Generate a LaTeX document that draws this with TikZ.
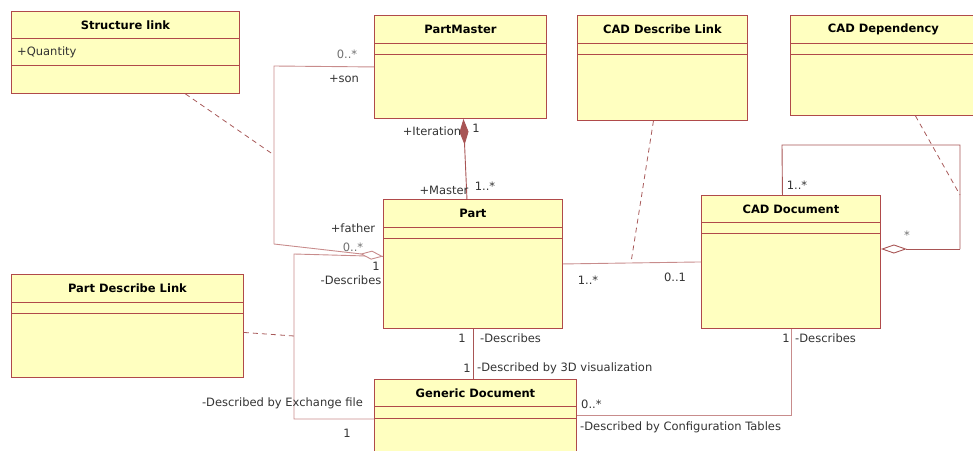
\documentclass[tikz,border=0pt]{standalone}
\usepackage{fontspec}
\setmainfont{DejaVu Sans}
\usetikzlibrary{arrows.meta}
\definecolor{boxfill}{HTML}{FFFFC0}
\definecolor{boxline}{HTML}{B04A4A}
\definecolor{connline}{HTML}{C88C8C}
\definecolor{darkline}{HTML}{A85555}
\definecolor{dashline}{HTML}{A85A5A}
\definecolor{labeltext}{HTML}{333333}
\definecolor{greytext}{HTML}{707070}
\tikzset{
  classbox/.style={draw=boxline, fill=boxfill, line width=0.9pt, anchor=north west, inner sep=0pt},
  divider/.style={draw=boxline, line width=0.9pt},
  classtitle/.style={font=\fontsize{11.5}{13}\selectfont\bfseries, text=black, inner sep=0pt},
  attrtext/.style={font=\fontsize{11.5}{13}\selectfont, text=labeltext, inner sep=0pt},
  lbl/.style={font=\fontsize{11.5}{13}\selectfont, text=labeltext, inner sep=0pt},
  glbl/.style={font=\fontsize{11.5}{13}\selectfont, text=greytext, inner sep=0pt},
  conn/.style={draw=connline, line width=0.9pt},
  darkconn/.style={draw=darkline, line width=0.9pt},
  dashconn/.style={draw=dashline, line width=0.8pt, dash pattern=on 5pt off 4pt},
}
\newcommand{\umlclass}[8]{%
  \node[classbox, minimum width=#4pt, minimum height=#5pt] (#1) at (#2,#3) {};
  \draw[divider] ([yshift=-#7pt]#1.north west) -- ([yshift=-#7pt]#1.north east);
  \draw[divider] ([yshift=-#8pt]#1.north west) -- ([yshift=-#8pt]#1.north east);
  \node[classtitle] (#1-t) at ([yshift=-14pt]#1.north) {#6};
}
\begin{document}
\begin{tikzpicture}[x=1pt,y=-1pt]
\useasboundingbox (0,0) rectangle (973,450);
% classes
\umlclass{sl}{11}{11}{228}{82}{Structure link}{27}{54}
\node[attrtext, anchor=west] (sl-a) at (17,52) {+Quantity};
\umlclass{pm}{374}{15}{172}{103}{PartMaster}{28}{39}
\umlclass{cdl}{577}{15}{170}{105}{CAD Describe Link}{28}{39}
\umlclass{cdep}{790}{15}{186}{100}{CAD Dependency}{28}{39}
\umlclass{part}{383}{199}{179}{129}{Part}{28}{39}
\umlclass{cad}{701}{195}{179}{133}{CAD Document}{27}{38}
\umlclass{pdl}{11}{274}{232}{103}{Part Describe Link}{28}{39}
\umlclass{gd}{374}{379}{202}{80}{Generic Document}{27}{39}
% helper coordinates
\coordinate (sonc) at (274,66);
\coordinate (sonb) at (274,244);
\coordinate (sonmid) at (274,155);
\coordinate (pf) at ([yshift=7.5pt]part.west);
\coordinate (dtop) at (294,254);
\coordinate (dbot) at (294,419);
\coordinate (dmid) at (294,336);
\coordinate (pcmid) at (631,262.5);
\coordinate (loop1) at (782,145);
\coordinate (loop2) at (960,145);
\coordinate (loop3) at (960,249);
\coordinate (loopmid) at (960,195);
% connectors
\draw[conn] (pm.west) -- (sonc) -- (sonb);
\draw[conn] (pf) -- (dtop) -- (dbot) -- (dbot -| gd.west);
\draw[conn, -{Diamond[open, fill=white, length=23pt, width=9pt]}] (sonb) -- (pf);
\draw[dashconn] ([xshift=60pt]sl.south) -- (sonmid);
\draw[dashconn] ([yshift=-6.5pt]pdl.east) -- (dmid);
\draw[darkconn, {Diamond[length=26pt, width=9pt]}-] ([xshift=3pt]pm.south) -- ([xshift=-6pt]part.north);
\draw[conn] (part.east) -- (cad.west);
\draw[dashconn] ([xshift=-9pt]cdl.south) -- (pcmid);
\draw[darkconn] ([xshift=-8.5pt]cad.north) -- (loop1) -- (loop2) -- (loop3);
\draw[darkconn, -{Diamond[open, fill=white, length=26pt, width=9pt]}] (loop3) -- (loop3 -| cad.east);
\draw[dashconn] ([xshift=32pt]cdep.south) -- (loopmid);
\draw[darkconn] (part.south) -- (part.south |- gd.north);
\draw[conn] (cad.south) |- ([yshift=4pt]gd.east);
% labels
\node[glbl] (l1) at (347,54) {0..*};
\node[lbl] (l2) at (344,79) {+son};
\node[lbl] (l3) at (432,131) {+Iteration};
\node[lbl] (l4) at (476,128) {1};
\node[lbl] (l5) at (444,190) {+Master};
\node[lbl] (l6) at (485,186) {1..*};
\node[lbl] (l7) at (353,228) {+father};
\node[glbl] (l8) at (353,247) {0..*};
\node[lbl] (l9) at (376,266) {1};
\node[lbl] (l10) at (351,280) {-Describes};
\node[lbl] (l11) at (588,280) {1..*};
\node[lbl] (l12) at (675,277) {0..1};
\node[lbl] (l13) at (797,185) {1..*};
\node[glbl] (l14) at (907,235) {*};
\node[lbl] (l15) at (462,338) {1};
\node[lbl, anchor=west] (l16) at (480,338) {-Describes};
\node[lbl] (l17) at (467,368) {1};
\node[lbl, anchor=west] (l18) at (477,368) {-Described by 3D visualization};
\node[lbl] (l19) at (786,338) {1};
\node[lbl, anchor=west] (l20) at (795,338) {-Describes};
\node[lbl, anchor=east] (l21) at (363,403) {-Described by Exchange file};
\node[lbl] (l22) at (347,433) {1};
\node[lbl, anchor=west] (l23) at (581,404) {0..*};
\node[lbl, anchor=west] (l24) at (580,427) {-Described by Configuration Tables};
\end{tikzpicture}
\end{document}
